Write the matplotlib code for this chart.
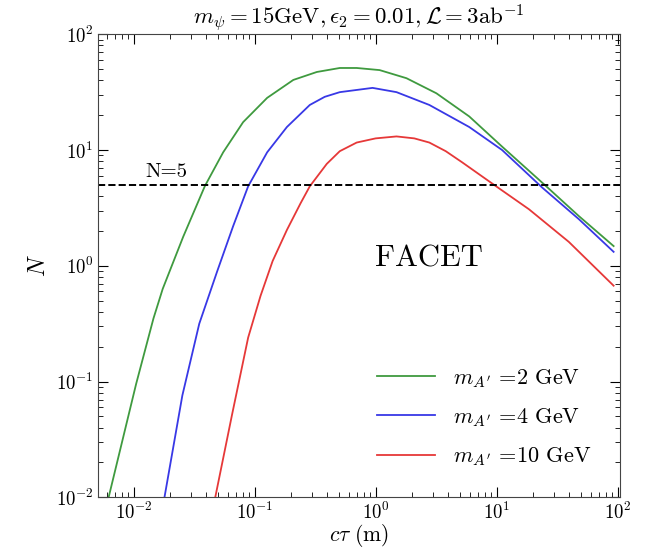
import matplotlib
matplotlib.use("Agg")
import matplotlib.pyplot as plt

plt.rcParams["font.family"] = ["cmr10", "DejaVu Serif"]
plt.rcParams["mathtext.fontset"] = "cm"
plt.rcParams["axes.formatter.use_mathtext"] = True

# ---- data ----
ctau_2 = [0.00622, 0.0105, 0.0146, 0.0174, 0.0257, 0.0389, 0.0550, 0.0804, 0.127,
          0.209, 0.327, 0.506, 0.698, 1.08, 1.80, 3.18, 5.94, 11.1, 25.5, 47.8, 92.7]
N_2 = [0.0100, 0.0955, 0.351, 0.631, 1.78, 4.90, 9.55, 17.4, 28.2,
       40.3, 47.2, 51.1, 51.1, 49.0, 41.7, 30.9, 19.5, 10.7, 4.90, 2.69, 1.48]

ctau_4 = [0.0180, 0.0253, 0.0349, 0.0490, 0.0665, 0.0885, 0.127, 0.185, 0.286, 0.380,
          0.506, 0.944, 1.49, 2.78, 5.94, 11.1, 23.7, 47.8, 92.7]
N_4 = [0.0100, 0.0759, 0.316, 0.891, 2.20, 4.86, 9.55, 15.8, 24.5, 28.8,
       31.6, 34.4, 31.6, 24.5, 15.8, 10.0, 4.76, 2.53, 1.32]

ctau_10 = [0.0473, 0.0653, 0.0885, 0.112, 0.141, 0.185, 0.240, 0.286, 0.395, 0.506,
           0.698, 1.0, 1.49, 2.09, 2.78, 3.80, 5.20, 9.91, 18.5, 39.5, 92.7]
N_10 = [0.0100, 0.0525, 0.240, 0.550, 1.10, 2.04, 3.47, 4.86, 7.59, 9.77,
        11.6, 12.6, 13.1, 12.6, 11.6, 9.77, 7.82, 4.86, 3.08, 1.61, 0.673]

N_min = 5

# ---- plot ----
fig = plt.figure(figsize=(6.46, 5.52), dpi=100)
ax = fig.add_axes([0.152, 0.099, 0.808, 0.839])

ax.plot(ctau_2, N_2, color="#3f9a3f", lw=1.3, label=r"$m_{A'}$ =2 GeV")
ax.plot(ctau_4, N_4, color="#3838e6", lw=1.3, label=r"$m_{A'}$ =4 GeV")
ax.plot(ctau_10, N_10, color="#e63838", lw=1.3, label=r"$m_{A'}$ =10 GeV")
ax.axhline(N_min, color="black", ls="--", lw=1.4)

ax.set_xscale("log")
ax.set_yscale("log")
ax.set_xlim(5.1e-3, 1.05e2)
ax.set_ylim(1e-2, 1e2)

ax.text(0.0126, 5.4, "N=5", fontsize=15, va="bottom", ha="left")
ax.text(2.75, 1.15, "FACET", fontsize=22, va="center", ha="center")

ax.set_title(r"$m_\psi=15\mathrm{GeV}, \epsilon_2=0.01, \mathcal{L}=3\mathrm{ab}^{-1}$",
             fontsize=16.5, pad=4)
ax.set_xlabel(r"$c\tau\ \mathrm{(m)}$", fontsize=15.5, labelpad=-1)
ax.set_ylabel(r"$N$", fontsize=17, labelpad=4)

ax.tick_params(which="both", direction="in", top=True, right=True, labelsize=13.5)
ax.tick_params(which="major", length=7)
ax.tick_params(which="minor", length=3.5)
for s in ax.spines.values():
    s.set_color("#444444")

ax.legend(loc="lower right", frameon=False, fontsize=16, handlelength=2.6,
          labelspacing=0.75, borderaxespad=0.9)

fig.savefig("out.png", dpi=100)
